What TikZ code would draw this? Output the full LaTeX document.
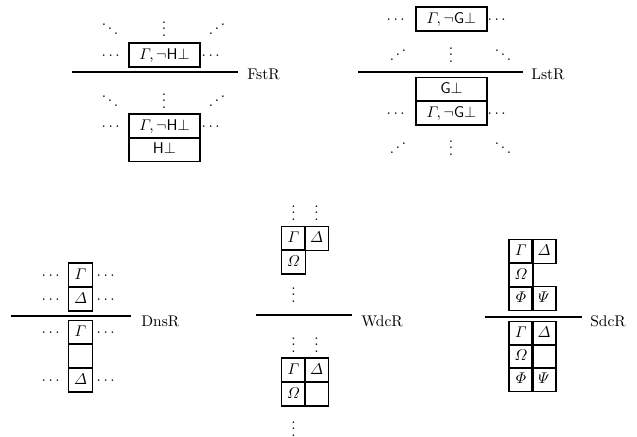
\documentclass[tikz,border=0pt]{standalone}
\usepackage{amsmath}
\usepackage{amssymb}
\usepackage{tikz}

\newcommand{\revddots}{\reflectbox{$\ddots$}}

\begin{document}
\begin{tikzpicture}[
                        x=0.645pt,
                        y=-0.645pt,
                        every node/.style={
                                text height=1.5ex,
                                text depth=.25ex,
                            },
                        cell/.style={
                                draw,
                                line width=1pt,
                                minimum width=15.2pt,
                                minimum height=15.2pt,
                                inner sep=0pt,
                            },
                        wcell/.style={
                                cell,
                                minimum width=45.8pt,
                                minimum height=15.3pt,
                            },
                        rulename/.style={anchor=base west, inner sep=0pt},
                        inf/.style={line width=1pt},
                    ]

                    \useasboundingbox (0,0) rectangle (637,437);

                    % FstR
                    \foreach \x/\d [count=\i] in {110/$\ddots$,164/$\vdots$,217/\revddots}{
                            \node (fstUp\i) at (\x,32) {\d};
                            \node (fstDn\i) at (\x,104) {\d};
                        }
                    \node[wcell] (fstPrem) at (164.5,55) {$\varGamma, \neg\mathsf{H}\bot$};
                    \node (fstPremL) at (112,55) {$\cdots$};
                    \node (fstPremR) at (212,55) {$\cdots$};
                    \coordinate (fstA) at (72,72);
                    \coordinate (fstB) at (238,72);
                    \draw[inf] (fstA) -- (fstB);
                    \node[rulename] (fstName) at (247,80) {FstR};
                    \node[wcell] (fstConc) at (164.5,126) {$\varGamma, \neg\mathsf{H}\bot$};
                    \node[wcell] (fstNew) at (164.5,149.5) {$\mathsf{H}\bot$};
                    \node (fstConcL) at (112,126) {$\cdots$};
                    \node (fstConcR) at (212,126) {$\cdots$};

                    % LstR
                    \node[wcell] (lstPrem) at (451.5,19) {$\varGamma, \neg\mathsf{G}\bot$};
                    \node (lstPremL) at (397,19) {$\cdots$};
                    \node (lstPremR) at (498,19) {$\cdots$};
                    \foreach \x/\d [count=\i] in {398/\revddots,451/$\vdots$,503/$\ddots$}{
                            \node (lstUp\i) at (\x,58) {\d};
                            \node (lstDn\i) at (\x,151) {\d};
                        }
                    \coordinate (lstA) at (358,72);
                    \coordinate (lstB) at (523,72);
                    \draw[inf] (lstA) -- (lstB);
                    \node[rulename] (lstName) at (531,80) {LstR};
                    \node[wcell] (lstNew) at (451.5,89.5) {$\mathsf{G}\bot$};
                    \node[wcell] (lstConc) at (451.5,113) {$\varGamma, \neg\mathsf{G}\bot$};
                    \node (lstConcL) at (397,113) {$\cdots$};
                    \node (lstConcR) at (498,113) {$\cdots$};

                    % DnsR
                    \node[cell] (dnsG) at (80.5,275) {$\varGamma$};
                    \node[cell] (dnsD) at (80.5,299) {$\varDelta$};
                    \foreach \y/\n in {275/G,299/D}{
                            \node (dnsL\n) at (52,\y) {$\cdots$};
                            \node (dnsR\n) at (107,\y) {$\cdots$};
                        }
                    \coordinate (dnsA) at (11,316);
                    \coordinate (dnsB) at (131,316);
                    \draw[inf] (dnsA) -- (dnsB);
                    \node[rulename] (dnsName) at (141,327) {DnsR};
                    \node[cell] (dnsCG) at (80.5,332.5) {$\varGamma$};
                    \node[cell] (dnsCE) at (80.5,356) {};
                    \node[cell] (dnsCD) at (80.5,380) {$\varDelta$};
                    \foreach \y/\n in {332.5/G,380/D}{
                            \node (dnsCL\n) at (52,\y) {$\cdots$};
                            \node (dnsCR\n) at (107,\y) {$\cdots$};
                        }

                    % WdcR
                    \foreach \x [count=\i] in {293.5,316.5}{
                            \node (wdcUp\i) at (\x,216) {$\vdots$};
                            \node (wdcMid\i) at (\x,348) {$\vdots$};
                        }
                    \node[cell] (wdcG) at (293.5,238.5) {$\varGamma$};
                    \node[cell] (wdcD) at (316.5,238.5) {$\varDelta$};
                    \node[cell] (wdcO) at (293.5,262) {$\varOmega$};
                    \node (wdcDn) at (293.5,298) {$\vdots$};
                    \coordinate (wdcA) at (256,315);
                    \coordinate (wdcB) at (352,315);
                    \draw[inf] (wdcA) -- (wdcB);
                    \node[rulename] (wdcName) at (361,326) {WdcR};
                    \node[cell] (wdcCG) at (293.5,370) {$\varGamma$};
                    \node[cell] (wdcCD) at (316.5,370) {$\varDelta$};
                    \node[cell] (wdcCO) at (293.5,394) {$\varOmega$};
                    \node[cell] (wdcCE) at (316.5,394) {};
                    \node (wdcEnd) at (293.5,432) {$\vdots$};

                    % SdcR
                    \node[cell] (sdcG) at (521,251.5) {$\varGamma$};
                    \node[cell] (sdcD) at (544,251.5) {$\varDelta$};
                    \node[cell] (sdcO) at (521,275) {$\varOmega$};
                    \node[cell] (sdcF) at (521,298.5) {$\varPhi$};
                    \node[cell] (sdcP) at (544,298.5) {$\varPsi$};
                    \coordinate (sdcA) at (485,317);
                    \coordinate (sdcB) at (582,317);
                    \draw[inf] (sdcA) -- (sdcB);
                    \node[rulename] (sdcName) at (590,327) {SdcR};
                    \node[cell] (sdcCG) at (521,333.5) {$\varGamma$};
                    \node[cell] (sdcCD) at (544,333.5) {$\varDelta$};
                    \node[cell] (sdcCO) at (521,356.5) {$\varOmega$};
                    \node[cell] (sdcCE) at (544,356.5) {};
                    \node[cell] (sdcCF) at (521,379.5) {$\varPhi$};
                    \node[cell] (sdcCP) at (544,379.5) {$\varPsi$};
                \end{tikzpicture}
\end{document}
